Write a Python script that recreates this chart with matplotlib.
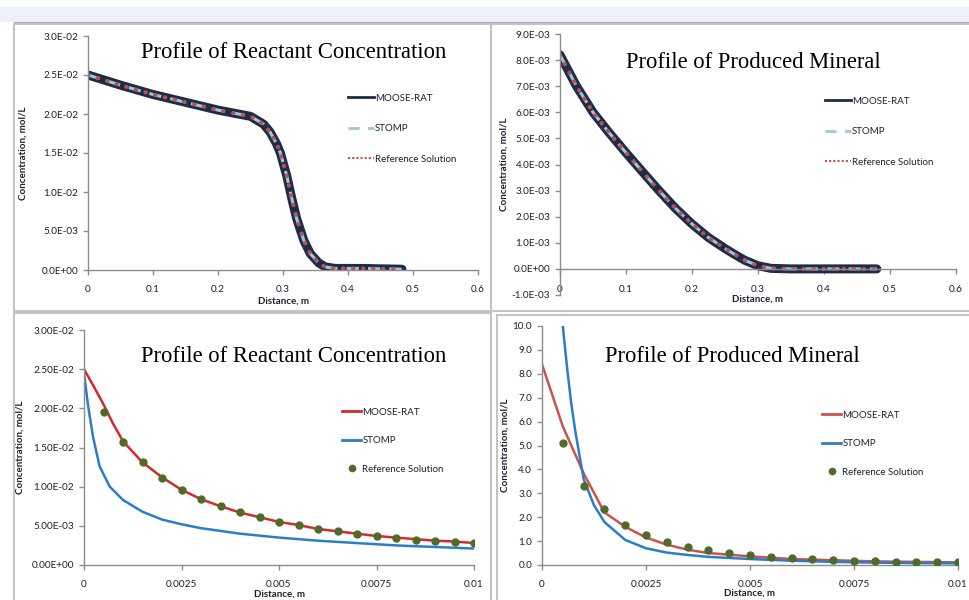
import matplotlib
matplotlib.use("Agg")
import matplotlib.pyplot as plt
from matplotlib.lines import Line2D
from matplotlib.patches import Rectangle
from matplotlib.ticker import FuncFormatter

plt.rcParams["font.family"] = ["Lato", "DejaVu Sans"]

W, H = 969, 600

# ---- top left: reactant concentration, 0-0.6 m
tl_x = [0, 0.05, 0.1, 0.15, 0.2, 0.25, 0.27, 0.28, 0.29, 0.296, 0.306, 0.314,
        0.321, 0.332, 0.342, 0.355, 0.365, 0.38, 0.42, 0.483]
tl_moose = [0.0250, 0.0237, 0.0225, 0.0215, 0.0205, 0.0197, 0.0187, 0.0177, 0.0162,
            0.0150, 0.0120, 0.0090, 0.0066, 0.0038, 0.0021, 0.0009, 0.0004, 0.0002,
            0.0002, 0.0001]
tl_stomp = tl_moose
tl_ref = tl_moose

# ---- top right: produced mineral, 0-0.6 m
tr_x = [0, 0.025, 0.05, 0.075, 0.1, 0.125, 0.15, 0.175, 0.2, 0.225, 0.25, 0.265,
        0.28, 0.3, 0.32, 0.35, 0.4, 0.45, 0.48]
tr_moose = [8.2e-3, 7.0e-3, 6.0e-3, 5.2e-3, 4.45e-3, 3.72e-3, 3.0e-3, 2.32e-3, 1.72e-3,
            1.2e-3, 0.78e-3, 0.55e-3, 0.33e-3, 0.12e-3, 0.02e-3, 0, 0, 0, 0]
tr_stomp = tr_moose
tr_ref = tr_moose

# ---- bottom left: reactant concentration, 0-0.01 m
bl_x = [0, 0.00025, 0.0005, 0.00075, 0.001, 0.0015, 0.002, 0.0025, 0.003, 0.0035,
        0.004, 0.0045, 0.005, 0.0055, 0.006, 0.0065, 0.007, 0.0075, 0.008, 0.0085,
        0.009, 0.0095, 0.01]
bl_moose = [0.0250, 0.0228, 0.0205, 0.0180, 0.0158, 0.0131, 0.0112, 0.0096, 0.0084,
            0.0075, 0.0067, 0.0061, 0.0055, 0.0051, 0.0046, 0.0043, 0.0040, 0.0037,
            0.0035, 0.0033, 0.0031, 0.0030, 0.0028]
bl_stomp_x = [0, 0.0001, 0.00023, 0.0004, 0.00066, 0.001, 0.0015, 0.002, 0.0025,
              0.003, 0.004, 0.005, 0.006, 0.007, 0.008, 0.009, 0.01]
bl_stomp = [0.0245, 0.0205, 0.0164, 0.0126, 0.0100, 0.0083, 0.0068, 0.0058, 0.0052,
            0.0047, 0.0040, 0.0035, 0.0031, 0.0028, 0.0025, 0.0023, 0.0021]
bl_ref_x = [0.0005, 0.001, 0.0015, 0.002, 0.0025, 0.003, 0.0035, 0.004, 0.0045, 0.005,
            0.0055, 0.006, 0.0065, 0.007, 0.0075, 0.008, 0.0085, 0.009, 0.0095, 0.01]
bl_ref = [0.0195, 0.01575, 0.0131, 0.01115, 0.00957, 0.00838, 0.00753, 0.00672,
          0.00609, 0.00553, 0.00506, 0.0046, 0.00434, 0.0040, 0.0037, 0.00349,
          0.00323, 0.0031, 0.00294, 0.0028]

# ---- bottom right: produced mineral, 0-0.01 m
br_x = [0, 0.0005, 0.001, 0.0015, 0.002, 0.0025, 0.003, 0.0035, 0.004, 0.005, 0.006,
        0.007, 0.008, 0.009, 0.01]
br_moose = [8.4, 5.8, 3.84, 2.2, 1.6, 1.15, 0.85, 0.64, 0.5, 0.36, 0.25, 0.2, 0.15,
            0.13, 0.11]
br_stomp_x = [0.0005, 0.0006, 0.0007, 0.0008, 0.0009, 0.001, 0.00125, 0.0015, 0.002,
              0.0025, 0.003, 0.0035, 0.004, 0.005, 0.006, 0.007, 0.008, 0.009, 0.01]
br_stomp = [10.0, 8.3, 6.8, 5.6, 4.6, 3.6, 2.5, 1.8, 1.05, 0.7, 0.52, 0.42, 0.34, 0.25,
            0.18, 0.13, 0.10, 0.08, 0.07]
br_ref_x = bl_ref_x
br_ref = [5.1, 3.3, 2.33, 1.67, 1.27, 0.96, 0.76, 0.61, 0.5, 0.4, 0.33, 0.28, 0.26, 0.2,
          0.18, 0.17, 0.14, 0.11, 0.11, 0.11]

NAVY = "#1f2c47"
LBLUE = "#9cc8dc"
DOTRED = "#c0504d"
RED = "#d42a2a"
RED2 = "#c9534f"
BLUE = "#2a7dc9"
GREEN = "#4f6b2a"
AXC = "#8c8c8c"
TXT = "#1f1f2f"

fig = plt.figure(figsize=(W / 100, H / 100), dpi=100)
fig.patch.set_facecolor("white")


def frac(x0, y0, x1, y1):
    return [x0 / W, 1 - y1 / H, (x1 - x0) / W, (y1 - y0) / H]


def px(x, y):
    return (x / W, 1 - y / H)


# window chrome and panel borders
fig.add_artist(Rectangle((0, 1 - 22 / H), 1, 15 / H, transform=fig.transFigure,
                         facecolor="#eef2f8", edgecolor="none"))
fig.add_artist(Rectangle((14 / W, 1 - 24 / H), 1, 2 / H, transform=fig.transFigure,
                         facecolor="#a8a8a8", edgecolor="none"))
for bx in [(14, 24, 491, 311), (491, 24, 975, 311), (14, 313, 491, 605), (497, 315, 975, 605)]:
    r = frac(*bx)
    fig.add_artist(Rectangle((r[0], r[1]), r[2], r[3], transform=fig.transFigure,
                             facecolor="none", edgecolor="#c4c4c4", lw=1.5))


def style(ax, box, xlim, ylim, xticks, yticks, yfmt, ylab_x, xlab_y, xpad,
          zero_spine=False):
    x0, y0, x1, y1 = box
    ax.set_xlim(*xlim)
    ax.set_ylim(*ylim)
    ax.set_xticks(xticks)
    ax.set_yticks(yticks)
    ax.xaxis.set_major_formatter(FuncFormatter(lambda v, p: "%g" % round(v, 6)))
    ax.yaxis.set_major_formatter(FuncFormatter(yfmt))
    for s in ["top", "right"]:
        ax.spines[s].set_visible(False)
    for s in ["left", "bottom"]:
        ax.spines[s].set_color(AXC)
        ax.spines[s].set_linewidth(1.0)
    if zero_spine:
        ax.spines["bottom"].set_position(("data", 0))
    ax.tick_params(axis="both", colors=AXC, labelcolor=TXT, labelsize=7.2,
                   length=3.5, width=1.0, direction="out")
    ax.tick_params(axis="x", pad=xpad)
    ax.set_facecolor("none")
    ax.set_xlabel("Distance, m", fontsize=7, fontweight="bold", color=TXT)
    ax.set_ylabel("Concentration, mol/L", fontsize=7, fontweight="bold", color=TXT)
    # label positions in screen pixels, converted to axes fractions
    ax.yaxis.set_label_coords((ylab_x + 4 - x0) / (x1 - x0), 0.5)
    ax.xaxis.set_label_coords(0.5, (y1 - xlab_y) / (y1 - y0))


def top_legend(ax, anchor):
    handles = [Line2D([], [], color=NAVY, lw=2),
               Line2D([], [], color=LBLUE, lw=2, ls=(0, (4, 3))),
               Line2D([], [], color=DOTRED, lw=1.5, ls=(0, (1, 1)))]
    ax.legend(handles, ["MOOSE-RAT", "STOMP", "Reference Solution"], loc="upper left",
              bbox_to_anchor=anchor, bbox_transform=fig.transFigure, frameon=False,
              fontsize=7, handlelength=2.7, handletextpad=0.1, labelspacing=2.2,
              borderpad=0, labelcolor=TXT)


def bottom_legend(ax, anchor, red):
    handles = [Line2D([], [], color=red, lw=2),
               Line2D([], [], color=BLUE, lw=2),
               Line2D([], [], color=GREEN, ls="none", marker="o", ms=4.5)]
    ax.legend(handles, ["MOOSE-RAT", "STOMP", "Reference Solution"], loc="upper left",
              bbox_to_anchor=anchor, bbox_transform=fig.transFigure, frameon=False,
              fontsize=7, handlelength=2.0, handletextpad=0.1, labelspacing=2.0,
              borderpad=0, labelcolor=TXT)


def title(x, y, s):
    fig.text(*px(x, y), s, family="Liberation Serif", fontsize=16.3,
             ha="center", va="center", color="black")


e1 = lambda v, p: "%.1E" % v
e2 = lambda v, p: "%.2E" % v

# top left
b1 = (88, 36, 478, 270)
ax1 = fig.add_axes(frac(*b1))
ax1.plot(tl_x, tl_moose, color=NAVY, lw=6.5, solid_capstyle="round")
ax1.plot(tl_x, tl_stomp, color=LBLUE, lw=2.2, ls=(0, (4, 3)))
ax1.plot(tl_x, tl_ref, color=DOTRED, lw=3, ls=(0, (0.1, 2.3)), dash_capstyle="round")
style(ax1, b1, (0, 0.6), (0, 0.03), [0, 0.1, 0.2, 0.3, 0.4, 0.5, 0.6],
      [0, 0.005, 0.01, 0.015, 0.02, 0.025, 0.03], e1, 24, 297, 7)
top_legend(ax1, px(343, 89))
title(294, 53, "Profile of Reactant Concentration")

# top right
b2 = (560, 34, 956, 295)
ax2 = fig.add_axes(frac(*b2))
ax2.plot(tr_x, tr_moose, color=NAVY, lw=6.5, solid_capstyle="round")
ax2.plot(tr_x, tr_stomp, color=LBLUE, lw=2.2, ls=(0, (4, 3)))
ax2.plot(tr_x, tr_ref, color=DOTRED, lw=3, ls=(0, (0.1, 2.3)), dash_capstyle="round")
style(ax2, b2, (0, 0.6), (-1e-3, 9e-3), [0, 0.1, 0.2, 0.3, 0.4, 0.5, 0.6],
      [i * 1e-3 for i in range(-1, 10)], e1, 505, 295, 8, zero_spine=True)
top_legend(ax2, px(820, 92))
title(753, 63, "Profile of Produced Mineral")

# bottom left
b3 = (84, 330, 474, 565)
ax3 = fig.add_axes(frac(*b3))
ax3.plot(bl_x, bl_moose, color=RED, lw=1.8)
ax3.plot(bl_stomp_x, bl_stomp, color=BLUE, lw=1.8)
ax3.plot(bl_ref_x, bl_ref, color=GREEN, ls="none", marker="o", ms=5, zorder=3)
style(ax3, b3, (0, 0.01), (0, 0.03), [0, 0.0025, 0.005, 0.0075, 0.01],
      [0, 0.005, 0.01, 0.015, 0.02, 0.025, 0.03], e2, 21, 590, 7)
bottom_legend(ax3, px(337, 403), RED)
title(294, 356, "Profile of Reactant Concentration")

# bottom right
b4 = (542, 326, 958, 565)
ax4 = fig.add_axes(frac(*b4))
ax4.plot(br_x, br_moose, color=RED2, lw=1.8)
ax4.plot(br_stomp_x, br_stomp, color=BLUE, lw=1.8)
ax4.plot(br_ref_x, br_ref, color=GREEN, ls="none", marker="o", ms=5, zorder=3)
style(ax4, b4, (0, 0.01), (0, 10), [0, 0.0025, 0.005, 0.0075, 0.01],
      list(range(0, 11)), lambda v, p: "%.1f" % v, 506, 589, 7)
bottom_legend(ax4, px(817, 406), RED2)
title(732, 356, "Profile of Produced Mineral")

fig.savefig("out.png", dpi=100)
